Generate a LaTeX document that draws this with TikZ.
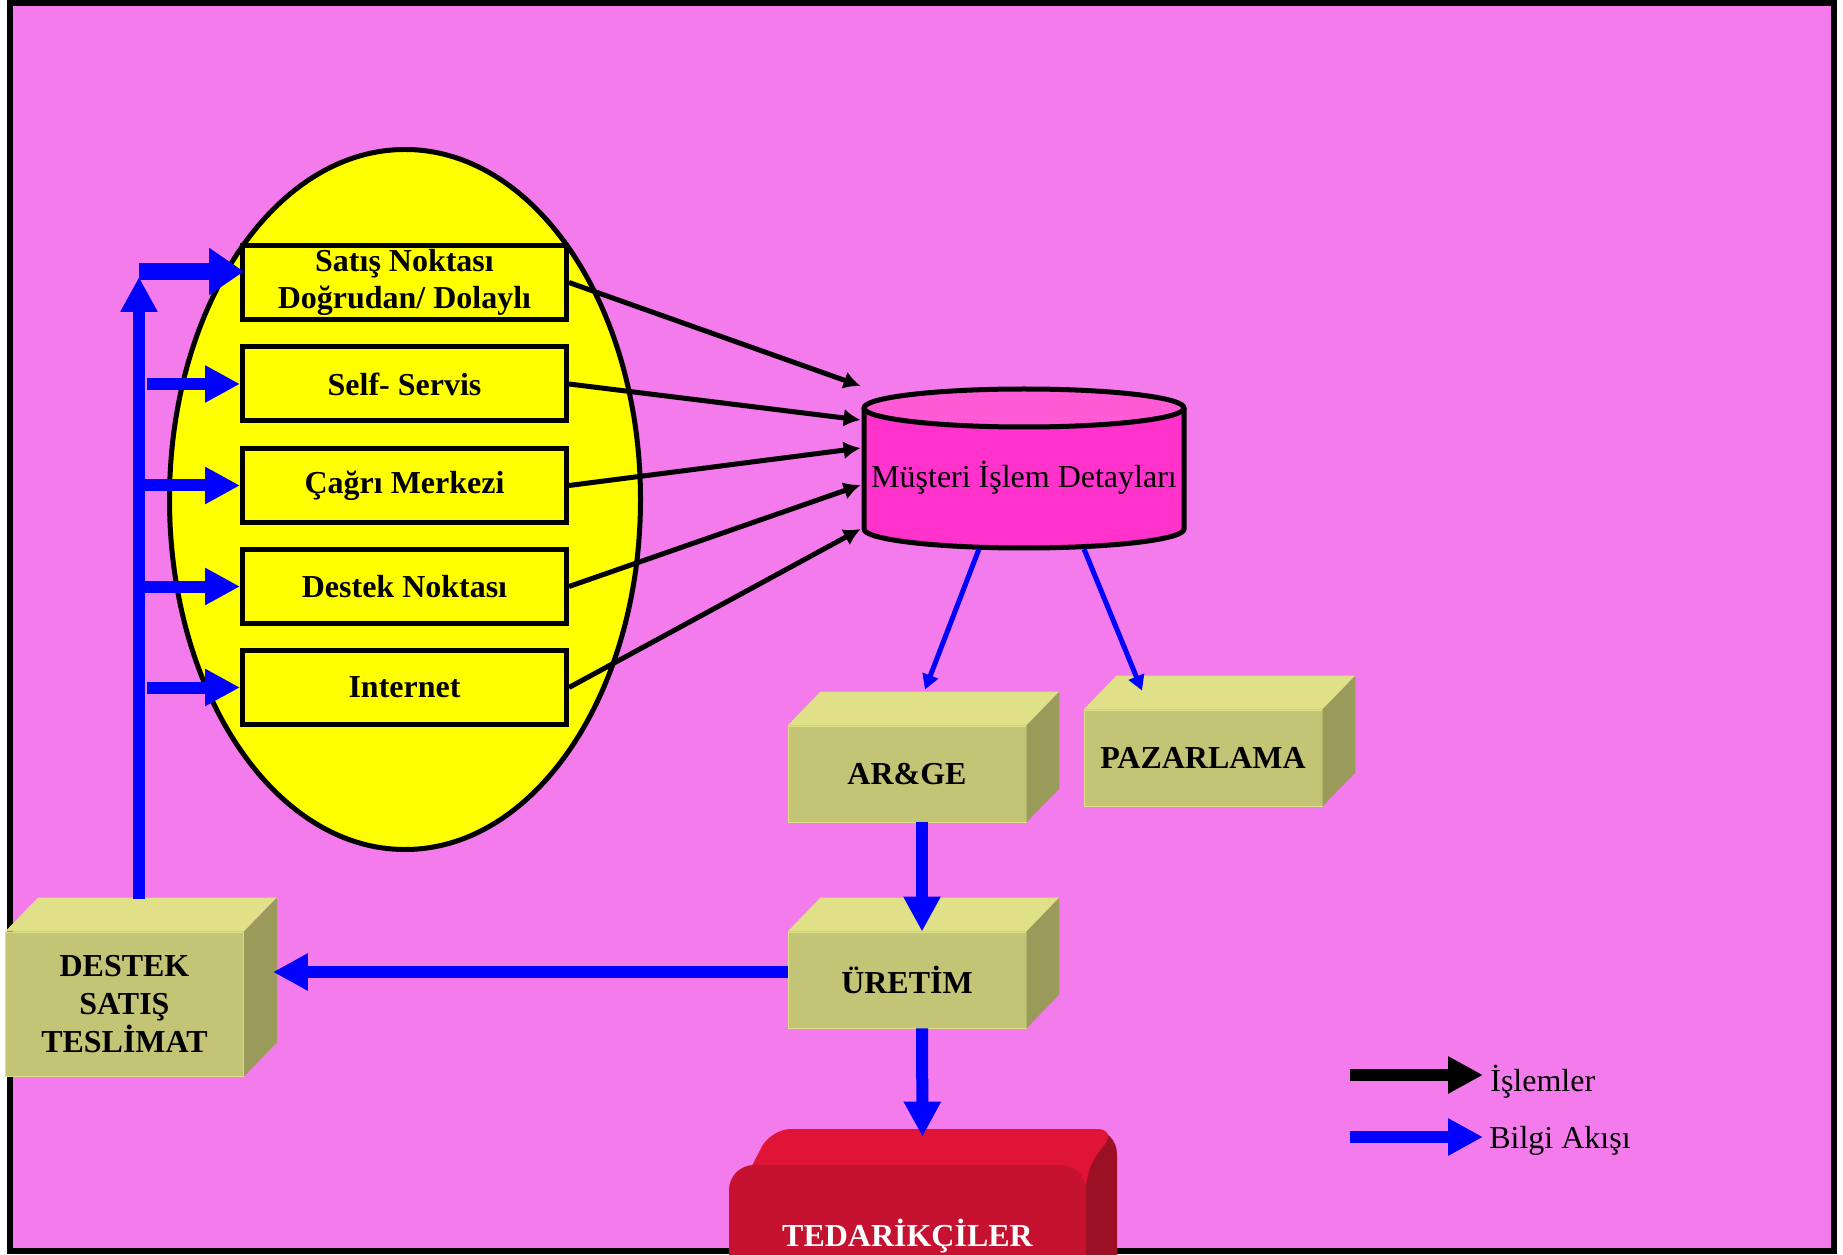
\documentclass[tikz,border=0pt]{standalone}
\usepackage{fontspec}
\setmainfont{Liberation Serif}
\usetikzlibrary{arrows.meta, calc}
\newcommand{\yazi}{\fontsize{18.2}{21.5}\selectfont}
\definecolor{zemin}{HTML}{F47BEB}
\definecolor{kanalsari}{HTML}{FFFF00}
\definecolor{silindir}{HTML}{FF33CC}
\definecolor{silindirust}{HTML}{FF5BD7}
\definecolor{kutuon}{HTML}{C4C476}
\definecolor{kutuust}{HTML}{E0E088}
\definecolor{kutuyan}{HTML}{9A9A5A}
\definecolor{tedon}{HTML}{C41230}
\definecolor{tedust}{HTML}{E01535}
\definecolor{tedyan}{HTML}{9B1025}
\tikzset{
  kanal/.style={
    rectangle, draw=black, line width=1mm, fill=kanalsari, inner sep=1pt,
    minimum width=64.8mm, minimum height=14.8mm, align=center, font=\yazi\bfseries
  },
  kutu/.style={
    rectangle, draw=kutuust, line width=0.5pt, fill=kutuon,
    minimum width=47.6mm, minimum height=19.2mm, align=center, font=\yazi\bfseries
  },
  islem/.style={
    -{Latex[length=3.4mm,width=3.6mm]}, line width=1mm, black
  },
  bilgi/.style={
    -{Triangle[length=3mm,width=3.2mm]}, line width=1mm, blue
  },
  bilgikalin/.style={
    -{Triangle[length=7mm,width=7mm]}, line width=2.4mm, blue
  }
}

\begin{document}
\begin{tikzpicture}[x=0.2mm, y=-0.2mm]
    \useasboundingbox (0,0) rectangle (1843,1255);

    % Frame
    \draw[line width=1.2mm, fill=zemin] (10,3) rectangle (1834,1251);

    % Channel ellipse
    \draw[line width=1mm, fill=kanalsari] (405,499.5) ellipse [x radius=235.5, y radius=350];

    % Channels
    \node[kanal] (satis) at (404.5,282.5) {Satış Noktası\\Doğrudan/ Dolaylı};
    \node[kanal] (self) at (404.5,384) {Self- Servis};
    \node[kanal] (cagri) at (404.5,485.5) {Çağrı Merkezi};
    \node[kanal] (destekn) at (404.5,586.5) {Destek Noktası};
    \node[kanal] (internet) at (404.5,687.5) {Internet};

    % Customer database
    \fill[silindir] (864,408) -- (864,529) arc[start angle=180, end angle=0, x radius=160, y radius=19] -- (1184,408) -- cycle;
    \draw[line width=1mm] (864,408) -- (864,529) arc[start angle=180, end angle=0, x radius=160, y radius=19] -- (1184,408);
    \draw[line width=1mm, fill=silindirust] (1024,408) ellipse [x radius=160, y radius=19];
    \node[minimum width=65.2mm, font=\yazi] (musteri) at (1024,478) {Müşteri İşlem Detayları};

    % Transactions
    \draw[islem] (satis.east) -- ($(musteri.west)+(0,-92)$);
    \draw[islem] (self.east) -- ($(musteri.west)+(0,-58)$);
    \draw[islem] (cagri.east) -- ($(musteri.west)+(0,-30)$);
    \draw[islem] (destekn.east) -- ($(musteri.west)+(0,7)$);
    \draw[islem] (internet.east) -- ($(musteri.west)+(0,51)$);

    % Departments
    \node[kutu] (arge) at (907,774) {AR\&GE};
    \node[kutu] (pazar) at (1203,758) {PAZARLAMA};
    \node[kutu] (uretim) at (907,980) {ÜRETİM};
    \node[kutu, minimum height=28.8mm] (destek) at (124.5,1004) {DESTEK\\SATIŞ\\TESLİMAT};

    \fill[kutuust] (arge.north west) -- ++(33,-34) -- ($(arge.north east)+(33,-34)$) -- (arge.north east) -- cycle;
    \fill[kutuyan] (arge.north east) -- ++(33,-34) -- ($(arge.south east)+(33,-34)$) -- (arge.south east) -- cycle;
    \fill[kutuust] (pazar.north west) -- ++(33,-34) -- ($(pazar.north east)+(33,-34)$) -- (pazar.north east) -- cycle;
    \fill[kutuyan] (pazar.north east) -- ++(33,-34) -- ($(pazar.south east)+(33,-34)$) -- (pazar.south east) -- cycle;
    \fill[kutuust] (uretim.north west) -- ++(33,-34) -- ($(uretim.north east)+(33,-34)$) -- (uretim.north east) -- cycle;
    \fill[kutuyan] (uretim.north east) -- ++(33,-34) -- ($(uretim.south east)+(33,-34)$) -- (uretim.south east) -- cycle;
    \fill[kutuust] (destek.north west) -- ++(33,-34) -- ($(destek.north east)+(33,-34)$) -- (destek.north east) -- cycle;
    \fill[kutuyan] (destek.north east) -- ++(33,-34) -- ($(destek.south east)+(33,-34)$) -- (destek.south east) -- cycle;

    % Suppliers
    \fill[tedyan, rounded corners=5mm] (1060,1129) rectangle (1117,1300);
    \fill[tedust, rounded corners=4mm] (729,1210) -- (771,1129) -- (1117,1129) -- (1086,1168) -- (1086,1210) -- cycle;
    \node[fill=tedon, rounded corners=5mm, minimum width=71.4mm, minimum height=28.4mm,
      text=white, font=\yazi\bfseries] (tedarik) at (907.5,1236) {TEDARİKÇİLER};

    % Information flow
    \draw[bilgi] ($(musteri.center)+(-45,71)$) -- ($(arge.north)+(18,-36)$);
    \draw[bilgi] ($(musteri.center)+(60,71)$) -- ($(pazar.north)+(-61,-19)$);
    \draw[bilgikalin] ($(arge.south)+(15,0)$) -- ($(uretim.north)+(15,0)$);
    \draw[bilgikalin] ($(uretim.south)+(15,0)$) -- ($(tedarik.north)+(15,-28)$);
    \draw[bilgikalin] ($(uretim.west)+(0,-8)$) -- ($(destek.east)+(29,-32)$);

    \coordinate (dikalt) at (139,899);
    \coordinate (dikust) at (139,277);
    \draw[bilgikalin] (dikalt) -- (dikust);
    \draw[bilgikalin, line width=3.4mm, -{Triangle[length=7mm,width=9mm]}]
      ($(dikalt |- satis.west)+(0,-11)$) -- ($(satis.west)+(4,-11)$);
    \draw[bilgikalin] ($(dikalt |- self.west)+(8,0)$) -- (self.west);
    \draw[bilgikalin] (dikalt |- cagri.west) -- (cagri.west);
    \draw[bilgikalin] (dikalt |- destekn.west) -- (destekn.west);
    \draw[bilgikalin] ($(dikalt |- internet.west)+(8,0)$) -- (internet.west);

    % Legend
    \coordinate (lejok1) at (1350,1075);
    \coordinate (lejok2) at (1350,1137);
    \node[anchor=base west, inner xsep=1.4mm, inner ysep=0pt, font=\yazi] (islemler) at (1483,1091) {İşlemler};
    \node[anchor=base west, inner xsep=1.2mm, inner ysep=0pt, font=\yazi] (bilgiakisi) at (1483,1148) {Bilgi Akışı};
    \draw[bilgikalin, black] (lejok1) -- (lejok1 -| islemler.west);
    \draw[bilgikalin] (lejok2) -- (lejok2 -| bilgiakisi.west);
\end{tikzpicture}
\end{document}
